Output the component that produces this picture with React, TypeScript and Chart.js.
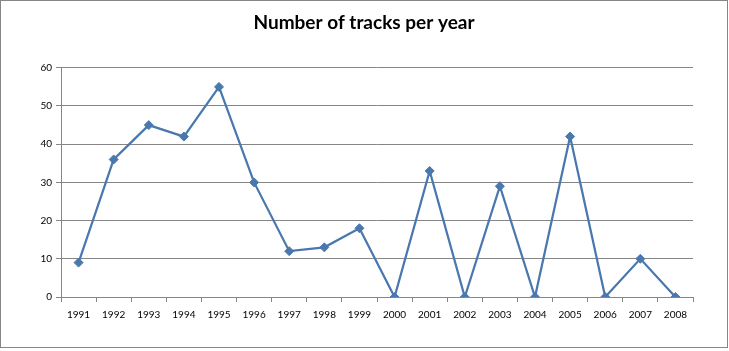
import React, { useEffect, useRef } from "react";
import { Chart, registerables } from "chart.js";

Chart.register(...registerables);

const years = ["1991","1992","1993","1994","1995","1996","1997","1998","1999","2000","2001","2002","2003","2004","2005","2006","2007","2008"];
const tracks = [9, 36, 45, 42, 55, 30, 12, 13, 18, 0, 33, 0, 29, 0, 42, 0, 10, 0];
const titleText = "Number of tracks per year";

export default function App() {
  const ref = useRef<HTMLCanvasElement>(null);
  useEffect(() => {
    document.body.style.margin = "0";
    const ctx = ref.current!;
    const chart = new Chart(ctx, {
      type: "line",
      data: {
        labels: years,
        datasets: [
          {
            data: tracks,
            borderColor: "#4A78AE",
            backgroundColor: "#4A78AE",
            borderWidth: 2.25,
            pointStyle: "rectRot",
            pointRadius: 4.5,
            pointBorderWidth: 1,
            tension: 0,
          },
        ],
      },
      options: {
        animation: false,
        responsive: false,
        maintainAspectRatio: false,
        layout: { padding: { left: 34, right: 34, top: 0, bottom: 0 } },
        plugins: {
          legend: { display: false },
          tooltip: { enabled: false },
          title: {
            display: true,
            text: titleText,
            color: "#000",
            font: { family: "Lato", size: 19, weight: "bold" },
            padding: { top: 10, bottom: 34 },
          },
        },
        scales: {
          x: {
            offset: true,
            grid: {
              offset: true,
              drawOnChartArea: false,
              drawTicks: true,
              tickLength: 5,
              color: "#868686",
            },
            border: { display: true, color: "#868686", width: 1 },
            ticks: {
              color: "#000",
              font: { family: "Lato", size: 10 },
              padding: 7,
              maxRotation: 0,
              autoSkip: false,
            },
            afterFit: (scale: any) => {
              scale.height = 50;
            },
          },
          y: {
            min: 0,
            max: 60,
            grid: {
              drawOnChartArea: true,
              drawTicks: true,
              tickLength: 5,
              color: "#868686",
            },
            border: { display: true, color: "#868686", width: 1 },
            ticks: {
              stepSize: 10,
              color: "#000",
              font: { family: "Lato", size: 10 },
              padding: 4,
            },
            afterFit: (scale: any) => {
              scale.width = 26;
            },
          },
        },
      },
    });
    return () => chart.destroy();
  }, []);
  return (
    <div
      style={{
        position: "absolute",
        left: 0,
        top: 0,
        width: 726,
        height: 346,
        border: "1px solid #868686",
        background: "#fff",
      }}
    >
      <canvas ref={ref} width={726} height={346} style={{ display: "block" }} />
    </div>
  );
}
